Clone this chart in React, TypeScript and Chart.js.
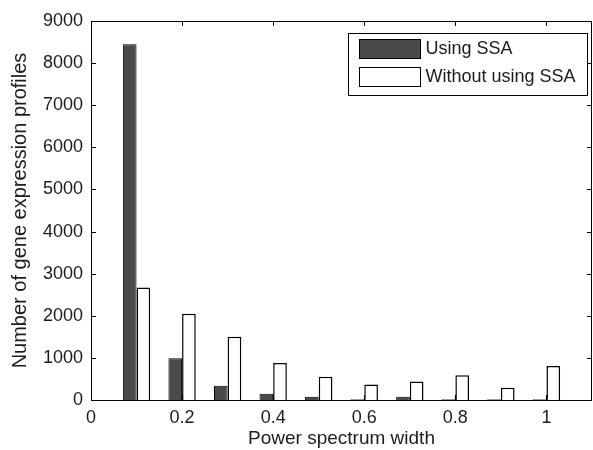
import React, { useEffect, useRef } from "react";
import { Chart, registerables } from "chart.js";

Chart.register(...registerables);

// ---- data ----
const widths = [0.1, 0.2, 0.3, 0.4, 0.5, 0.6, 0.7, 0.8, 0.9, 1.0];
const usingSSA = [8450, 990, 340, 150, 80, 20, 80, 20, 20, 20];
const withoutSSA = [2670, 2050, 1500, 880, 550, 370, 440, 590, 290, 810];
const seriesLabels = ["Using SSA", "Without using SSA"];
const xTicks = [0, 0.2, 0.4, 0.6, 0.8, 1];
const yTicks = [0, 1000, 2000, 3000, 4000, 5000, 6000, 7000, 8000, 9000];
const xTitle = "Power spectrum width";
const yTitle = "Number of gene expression profiles";

const FONT = "'Liberation Sans', Arial, Helvetica, sans-serif";
const TEXT = "#1c1c1c";
const DARK = "#4a4a4a";

const framePlugin = {
  id: "matlabFrame",
  afterDraw(chart: any) {
    const { ctx, chartArea } = chart;
    const { left, right, top, bottom } = chartArea;
    const xs = chart.scales.x;
    const ys = chart.scales.y;
    const tl = 5;
    ctx.save();
    ctx.strokeStyle = "#000";
    ctx.lineWidth = 1;
    ctx.beginPath();
    ctx.rect(Math.round(left) + 0.5, Math.round(top) + 0.5, Math.round(right - left) - 1, Math.round(bottom - top));
    // x ticks (bottom & top, inward)
    xs.ticks.forEach((t: any) => {
      const px = Math.round(xs.getPixelForValue(t.value)) + 0.5;
      ctx.moveTo(px, bottom);
      ctx.lineTo(px, bottom - tl);
      ctx.moveTo(px, top);
      ctx.lineTo(px, top + tl);
    });
    // y ticks (left & right, inward)
    ys.ticks.forEach((t: any) => {
      const py = Math.round(ys.getPixelForValue(t.value)) + 0.5;
      ctx.moveTo(left, py);
      ctx.lineTo(left + tl, py);
      ctx.moveTo(right, py);
      ctx.lineTo(right - tl, py);
    });
    ctx.stroke();

    // legend box
    const bw = 239;
    const bh = 62;
    const bx = Math.round(right - 5 - bw) + 0.5;
    const by = Math.round(top + 12) + 0.5;
    ctx.fillStyle = "#fff";
    ctx.fillRect(bx, by, bw, bh);
    ctx.strokeRect(bx, by, bw, bh);
    chart.data.datasets.forEach((ds: any, i: number) => {
      const sx = bx + 11;
      const sy = by + 6 + i * 28;
      ctx.fillStyle = ds.backgroundColor;
      ctx.fillRect(sx, sy, 61, 19);
      ctx.strokeStyle = "#000";
      ctx.lineWidth = 1;
      ctx.strokeRect(sx, sy, 61, 19);
      ctx.fillStyle = TEXT;
      ctx.font = `18px ${FONT}`;
      ctx.textBaseline = "middle";
      ctx.textAlign = "left";
      ctx.fillText(ds.label, sx + 66, sy + 10);
    });
    ctx.restore();
  },
};

export default function App() {
  const ref = useRef<HTMLCanvasElement | null>(null);

  useEffect(() => {
    if (!ref.current) return;
    const chart = new Chart(ref.current, {
      type: "bar",
      data: {
        datasets: [
          {
            label: seriesLabels[0],
            data: widths.map((x, i) => ({ x, y: usingSSA[i] })),
            backgroundColor: DARK,
            borderColor: "#000",
            borderWidth: 1,
          },
          {
            label: seriesLabels[1],
            data: widths.map((x, i) => ({ x, y: withoutSSA[i] })),
            backgroundColor: "#ffffff",
            borderColor: "#000",
            borderWidth: 1.5,
          },
        ],
      },
      options: {
        responsive: false,
        animation: false,
        devicePixelRatio: 1,
        layout: { padding: { top: 21, right: 1, left: 0, bottom: 0 } },
        datasets: { bar: { categoryPercentage: 0.6, barPercentage: 1.0 } },
        plugins: {
          legend: { display: false },
          tooltip: { enabled: false },
        },
        scales: {
          x: {
            type: "linear",
            offset: false,
            min: 0,
            max: 1.1,
            grid: { display: false, drawTicks: false },
            border: { display: false },
            afterBuildTicks: (s: any) => {
              s.ticks = xTicks.map((v) => ({ value: v }));
            },
            afterFit: (s: any) => {
              s.height = 50;
            },
            ticks: {
              padding: 7,
              maxRotation: 0,
              autoSkip: false,
              color: TEXT,
              font: { family: FONT, size: 18 },
              callback: (v: any) => String(Number(Number(v).toFixed(2))),
            },
            title: {
              display: true,
              text: xTitle,
              color: TEXT,
              font: { family: FONT, size: 19 },
              padding: { top: 0, bottom: 0 },
            },
          },
          y: {
            min: 0,
            max: 9000,
            grid: { display: false, drawTicks: false },
            border: { display: false },
            afterBuildTicks: (s: any) => {
              s.ticks = yTicks.map((v) => ({ value: v }));
            },
            afterFit: (s: any) => {
              s.width = 91;
            },
            ticks: {
              padding: 8,
              autoSkip: false,
              color: TEXT,
              font: { family: FONT, size: 18 },
              callback: (v: any) => String(v),
            },
            title: {
              display: true,
              text: yTitle,
              color: TEXT,
              font: { family: FONT, size: 20 },
              padding: { top: 8, bottom: 0 },
            },
          },
        },
      },
      plugins: [framePlugin],
    });
    return () => chart.destroy();
  }, []);

  return (
    <div style={{ position: "absolute", left: 0, top: 0, width: 593, height: 450, background: "#fff" }}>
      <canvas ref={ref} width={593} height={450} style={{ display: "block" }} />
    </div>
  );
}
